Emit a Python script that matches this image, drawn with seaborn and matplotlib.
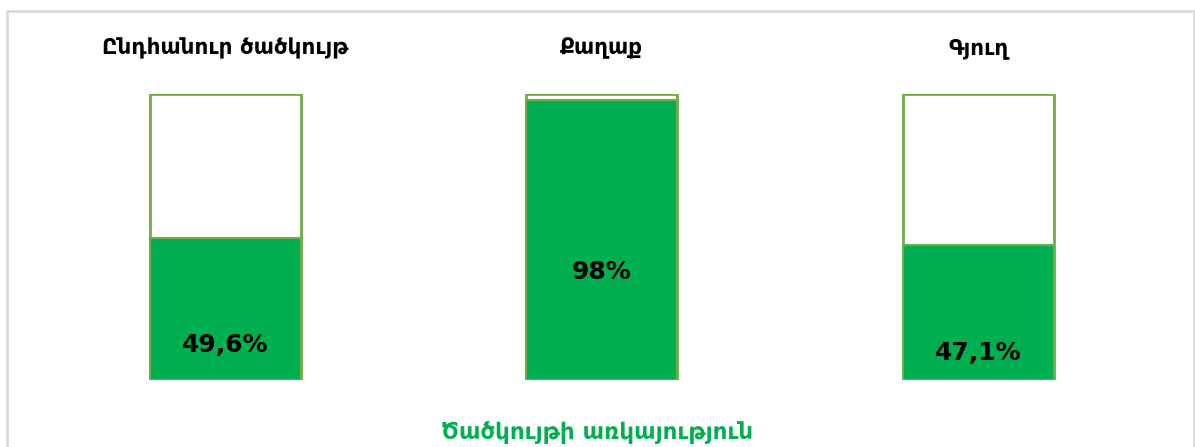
import matplotlib
matplotlib.use("Agg")
import matplotlib.pyplot as plt
import seaborn as sns
import pandas as pd
from matplotlib.patches import Rectangle

categories = ["Ընդհանուր ծածկույթ", "Քաղաք", "Գյուղ"]
coverage = [49.6, 98.0, 47.1]
value_labels = ["49,6%", "98%", "47,1%"]
xlabel = "Ծածկույթի առկայություն"

fill_green = "#00B050"
edge_green = "#70AD47"

df = pd.DataFrame({"category": categories, "coverage": coverage, "full": [100] * len(categories)})

sns.set_style("white")
plt.rcParams["font.family"] = ["DejaVu Sans"]

fig = plt.figure(figsize=(11.95, 4.47), dpi=100)
ax = fig.add_axes([37 / 1195, 67 / 447, 1129.5 / 1195, 286 / 447])

sns.barplot(data=df, x="category", y="full", color="white", edgecolor=edge_green,
            linewidth=2, width=0.4, ax=ax)
sns.barplot(data=df, x="category", y="coverage", color=fill_green, edgecolor=edge_green,
            linewidth=1.5, width=0.4, saturation=1, ax=ax)

ax.set_xlim(-0.5, 2.5)
ax.set_ylim(0, 100)
ax.axis("off")

# label heights picked to match the original layout
label_y = [12.2, 37.8, 9.4]
for i, (lab, ly) in enumerate(zip(value_labels, label_y)):
    ax.text(i, ly, lab, ha="center", va="center", fontsize=18, fontweight="bold", color="black")

for i, cat in enumerate(categories):
    ax.text(i, 116, cat, ha="center", va="center", fontsize=15.5, fontweight="bold",
            color="black", clip_on=False)

fig.text(0.5, 1 - 433 / 447, xlabel, ha="center", va="center", fontsize=16.5,
         fontweight="bold", color=fill_green)

fig.patches.append(Rectangle((7 / 1195, -0.1), 1187 / 1195, 1.1 - 11 / 447,
                             transform=fig.transFigure, fill=False,
                             edgecolor="#D9D9D9", linewidth=2))

fig.savefig("out.png", dpi=100)
